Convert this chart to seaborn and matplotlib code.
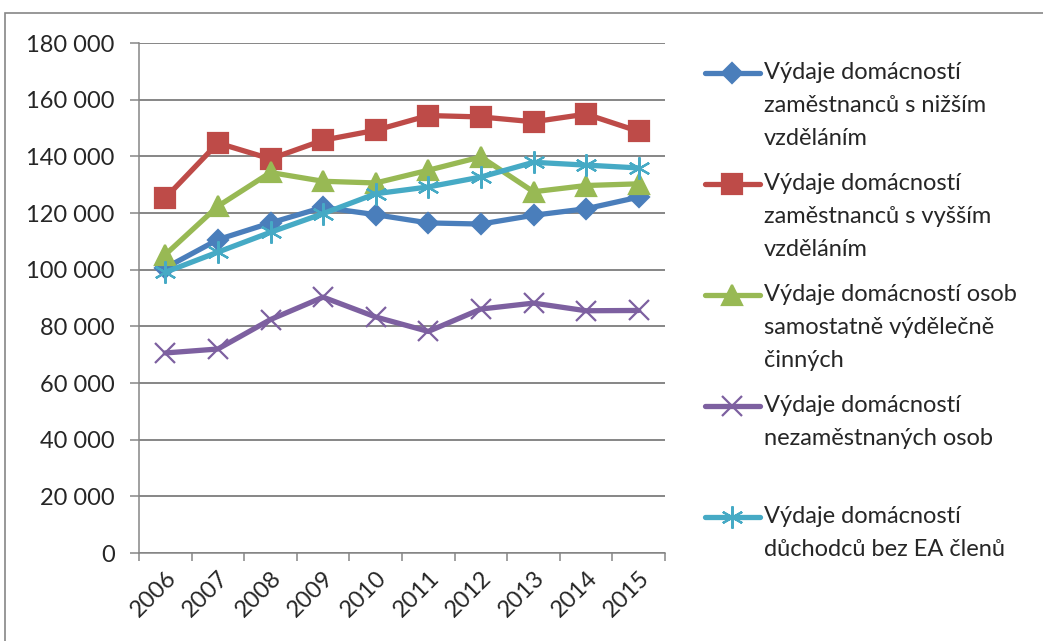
"""
Výdaje domácností podle typu domácnosti, 2006-2015 (spojnicový graf).
"""

import numpy as np
import pandas as pd
import seaborn as sns
import matplotlib.pyplot as plt
from matplotlib.lines import Line2D
from matplotlib.patches import Rectangle
from matplotlib.ticker import FuncFormatter

# Data
years = ['2006', '2007', '2008', '2009', '2010', '2011', '2012', '2013', '2014', '2015']

nizsi_vzdelani = [100600, 110600, 116500, 122000, 119400, 116500, 116100, 119200, 121500, 125600]
vyssi_vzdelani = [125300, 144700, 139100, 145700, 149200, 154400, 153900, 152200, 154900, 148800]
osvc = [105300, 122400, 134300, 131200, 130600, 135100, 139800, 127500, 129700, 130300]
nezamestnani = [70600, 72000, 82400, 90300, 83300, 78200, 86100, 88200, 85500, 85600]
duchodci = [99100, 106200, 113200, 119800, 126800, 129200, 132700, 137900, 136900, 135900]

labels = [
    'Výdaje domácností\nzaměstnanců s nižším\nvzděláním',
    'Výdaje domácností\nzaměstnanců s vyšším\nvzděláním',
    'Výdaje domácností osob\nsamostatně výdělečně\nčinných',
    'Výdaje domácností\nnezaměstnaných osob',
    'Výdaje domácností\ndůchodců bez EA členů',
]
series = [nizsi_vzdelani, vyssi_vzdelani, osvc, nezamestnani, duchodci]
colors = ['#4A7EBB', '#BE4B48', '#98B954', '#7D60A0', '#46AAC5']
markers = ['D', 's', '^', 'x', (6, 2, 0)]
msizes = [10, 14, 14, 15, 16]

sns.set_style('white')
plt.rcParams['font.family'] = ['Lato', 'DejaVu Sans']
FS = 17
GRAY = '#868686'

fig = plt.figure(figsize=(10.43, 6.41), dpi=100)
ax = fig.add_axes([139 / 1043, 1 - 553 / 641, 526 / 1043, 510 / 641])

x = np.arange(len(years))
for vals, lab, col, mk, ms in zip(series, labels, colors, markers, msizes):
    df = pd.DataFrame({'x': x, 'value': vals})
    sns.lineplot(data=df, x='x', y='value', ax=ax, color=col, linewidth=3.8,
                 marker=mk, markersize=ms, markeredgecolor=col,
                 markerfacecolor=col, markeredgewidth=1.6, label=lab,
                 legend=False, zorder=3)

ax.set_xlim(-0.5, len(years) - 0.5)
ax.set_ylim(0, 180000)
ax.set_yticks(np.arange(0, 180001, 20000))
ax.yaxis.set_major_formatter(FuncFormatter(lambda v, p: f'{int(v):,}'.replace(',', ' ')))
ax.yaxis.grid(True, color=GRAY, linewidth=1.4)
ax.set_axisbelow(True)

# tick marks between categories, labels centred on categories
ax.set_xticks(np.arange(-0.5, len(years), 1))
ax.set_xticklabels([])
ax.set_xticks(x, minor=True)
ax.set_xticklabels(years, minor=True, rotation=45, ha='right', va='top',
                   rotation_mode='anchor', fontsize=FS)
ax.tick_params(axis='x', which='major', direction='out', length=6, width=1.1,
               color=GRAY, bottom=True)
ax.tick_params(axis='x', which='minor', length=0, pad=10)
ax.tick_params(axis='y', direction='out', length=6.5, width=1.1, color=GRAY,
               left=True, pad=11, labelsize=FS)
ax.set_xlabel('')
ax.set_ylabel('')

for s in ['top', 'right']:
    ax.spines[s].set_visible(False)
for s in ['left', 'bottom']:
    ax.spines[s].set_color(GRAY)
    ax.spines[s].set_linewidth(1.1)

# legend to the right, handle next to the first line of each label
W, H = 1043, 641
handle_y = [73, 184, 295, 406, 517]
for hy, lab, col, mk, ms in zip(handle_y, labels, colors, markers, msizes):
    yy = 1 - hy / H
    fig.add_artist(Line2D([705 / W, 760 / W], [yy, yy], transform=fig.transFigure,
                          color=col, linewidth=3.8))
    fig.add_artist(Line2D([732 / W], [yy], transform=fig.transFigure, color=col,
                          marker=mk, markersize=ms, markeredgecolor=col,
                          markerfacecolor=col, markeredgewidth=1.6))
    fig.text(764 / W, yy + 11 / H, lab, fontsize=FS, va='top', ha='left',
             linespacing=1.72)

# chart frame
fig.add_artist(Rectangle((5 / W, -0.1), 1.2, 1 - 13 / H + 0.1,
                         transform=fig.transFigure, fill=False,
                         edgecolor=GRAY, linewidth=1.2))

plt.savefig('out.png', dpi=100)
